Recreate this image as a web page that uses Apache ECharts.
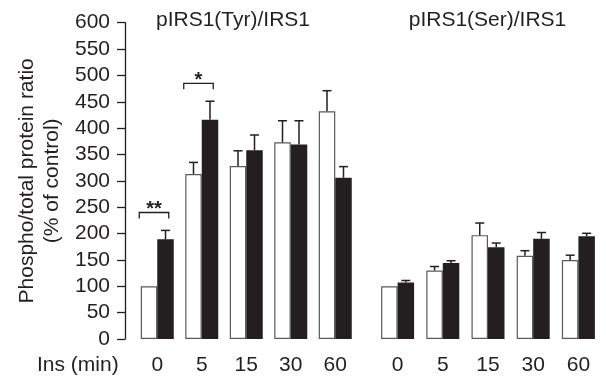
<!DOCTYPE html>
<html>
<head>
<meta charset="utf-8">
<script src="https://cdn.jsdelivr.net/npm/echarts@6/dist/echarts.min.js"></script>
<style>
  html, body { margin: 0; padding: 0; background: #fff; }
  #chart { width: 606px; height: 383px; }
</style>
</head>
<body>
<div id="chart"></div>
<script>
// Insulin time points (minutes)
const categories = ['0', '5', '15', '30', '60'];

// pIRS1(Tyr)/IRS1, % of control: mean and SEM
const tyrControl = [100, 313, 328, 373, 432];
const tyrControlSem = [0, 22, 29, 41, 39];
const tyrTreated = [189, 416, 358, 369, 306];
const tyrTreatedSem = [17, 35, 29, 45, 21];

// pIRS1(Ser)/IRS1, % of control: mean and SEM
const serControl = [100, 130, 197, 158, 150];
const serControlSem = [0, 7.5, 23, 9.5, 9];
const serTreated = [107, 144, 174, 190, 195];
const serTreatedSem = [4, 4.5, 8, 12, 5.5];

// Significance brackets on the Tyr panel: [category index, bracket level, stars]
const significance = [[0, 240, '**'], [1, 485, '*']];

const yTicks = { min: 0, max: 600, interval: 50 };

const INK = '#231f20';
const FONT = '"Liberation Sans", Arial, Helvetica, sans-serif';
const BAR_W = 16.5;

function errorRows(means, sems) {
  return means.map((m, i) => [i, m, m + sems[i]]);
}

function errorRenderer(side) {
  return function (params, api) {
    const i = api.value(0);
    const mean = api.value(1);
    const top = api.value(2);
    if (!(top > mean)) return null;
    const pTop = api.coord([i, top]);
    const pBase = api.coord([i, mean]);
    const x = pTop[0] + side * BAR_W / 2;
    const style = { stroke: INK, lineWidth: 1.5 };
    return {
      type: 'group',
      children: [
        { type: 'line', shape: { x1: x, y1: pBase[1], x2: x, y2: pTop[1] }, style },
        { type: 'line', shape: { x1: x - 4.5, y1: pTop[1], x2: x + 4.5, y2: pTop[1] }, style }
      ]
    };
  };
}

function bracketRenderer(params, api) {
  const i = api.value(0);
  const p = api.coord([i, api.value(1)]);
  const x1 = p[0] - 18, x2 = p[0] + 11.5, y = p[1];
  const stars = significance[params.dataIndex][2];
  return {
    type: 'group',
    children: [
      {
        type: 'polyline',
        shape: { points: [[x1, y + 6], [x1, y], [x2, y], [x2, y + 6]] },
        style: { stroke: INK, lineWidth: 1.3, fill: null }
      },
      {
        type: 'text',
        style: {
          text: stars, x: (x1 + x2) / 2, y: y - 3,
          align: 'center', verticalAlign: 'middle',
          font: 'bold 20px ' + FONT, fill: INK
        }
      }
    ]
  };
}

function xAxisFor(gridIndex) {
  return {
    type: 'category', gridIndex, data: categories,
    axisLine: { show: false }, axisTick: { show: false },
    axisLabel: { color: INK, fontSize: 21, fontFamily: FONT, margin: 16 }
  };
}

function barSeries(axisIndex, data, filled) {
  return {
    type: 'bar', xAxisIndex: axisIndex, yAxisIndex: axisIndex,
    data, barWidth: BAR_W, barGap: '0%',
    itemStyle: filled
      ? { color: INK }
      : { color: '#ffffff', borderColor: '#5a5a5a', borderWidth: 1.2 },
    z: 2
  };
}

function errorSeries(axisIndex, rows, side) {
  return {
    type: 'custom', xAxisIndex: axisIndex, yAxisIndex: axisIndex,
    data: rows, encode: { x: 0, y: [1, 2] },
    renderItem: errorRenderer(side), z: 3, silent: true
  };
}

const chart = echarts.init(document.getElementById('chart'), null, { renderer: 'canvas' });

chart.setOption({
  animation: false,
  backgroundColor: '#ffffff',
  grid: [
    { left: 135, top: 22.7, width: 222.5, height: 316.3 },
    { left: 375, top: 22.7, width: 226, height: 316.3 }
  ],
  xAxis: [xAxisFor(0), xAxisFor(1)],
  yAxis: [
    {
      type: 'value', gridIndex: 0, min: yTicks.min, max: yTicks.max, interval: yTicks.interval,
      offset: 10,
      axisLine: { show: true, lineStyle: { color: INK, width: 1.3 } },
      axisTick: { show: true, length: 8, lineStyle: { color: INK, width: 1.3 } },
      axisLabel: { color: INK, fontSize: 21, fontFamily: FONT, margin: 15 },
      splitLine: { show: false },
      name: 'Phospho/total protein ratio\n(% of control)',
      nameLocation: 'middle', nameRotate: 90, nameGap: 60,
      nameTextStyle: { color: INK, fontSize: 21, fontFamily: FONT, lineHeight: 25 }
    },
    {
      type: 'value', gridIndex: 1, min: yTicks.min, max: yTicks.max, interval: yTicks.interval,
      show: false, splitLine: { show: false }
    }
  ],
  graphic: [
    {
      type: 'text', left: 37, top: 355,
      style: { text: 'Ins (min)', font: '21px ' + FONT, fill: INK }
    },
    {
      type: 'text', x: 233, y: 20,
      style: { text: 'pIRS1(Tyr)/IRS1', font: '21px ' + FONT, fill: INK, align: 'center', verticalAlign: 'middle' }
    },
    {
      type: 'text', x: 487.5, y: 20,
      style: { text: 'pIRS1(Ser)/IRS1', font: '21px ' + FONT, fill: INK, align: 'center', verticalAlign: 'middle' }
    }
  ],
  series: [
    barSeries(0, tyrControl, false),
    barSeries(0, tyrTreated, true),
    errorSeries(0, errorRows(tyrControl, tyrControlSem), -1),
    errorSeries(0, errorRows(tyrTreated, tyrTreatedSem), 1),
    {
      type: 'custom', xAxisIndex: 0, yAxisIndex: 0,
      data: significance.map(s => [s[0], s[1]]),
      encode: { x: 0, y: 1 },
      renderItem: bracketRenderer, z: 4, silent: true
    },
    barSeries(1, serControl, false),
    barSeries(1, serTreated, true),
    errorSeries(1, errorRows(serControl, serControlSem), -1),
    errorSeries(1, errorRows(serTreated, serTreatedSem), 1)
  ]
});
</script>
</body>
</html>
